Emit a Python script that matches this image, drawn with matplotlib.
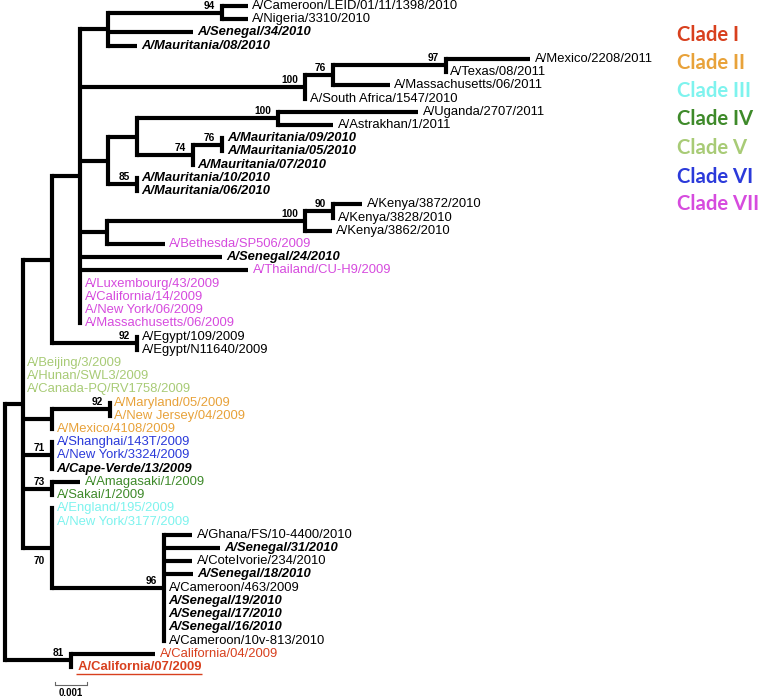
import matplotlib
matplotlib.use("Agg")
import matplotlib.pyplot as plt
from matplotlib.collections import LineCollection

# ---------------- data ----------------
# branch lengths in units of 1e-3 substitutions/site; internal labels = bootstrap
CLADE_D = ("((A/Cameroon/LEID/01/11/1398/2010:0.81,A/Nigeria/3310/2010:0.81)94:3.56,"
           "A/Senegal/34/2010:2.66,A/Mauritania/08/2010:0.91):0.875")
CLADE_100A = ("(((A/Mexico/2208/2011:2.63,A/Texas/08/2011:0)97:3.53,"
              "A/Massachusetts/06/2011:1.78)76:0.875,A/South Africa/1547/2010:0)100:7.03")
CLADE_E = ("(((A/Uganda/2707/2011:4.375,A/Astrakhan/1/2011:1.72)100:4.41,"
           "((A/Mauritania/09/2010:0,A/Mauritania/05/2010:0)76:0.91,A/Mauritania/07/2010:0)74:1.75):0.91,"
           "(A/Mauritania/10/2010:0,A/Mauritania/06/2010:0)85:0.91):0.875")
CLADE_G = ("(((A/Kenya/3872/2010:0.91,A/Kenya/3828/2010:0)90:0.875,A/Kenya/3862/2010:0.84)100:6.19,"
           "A/Bethesda/SP506/2009:1.81):0.84")
CLADE_C = ("(" + CLADE_D + "," + CLADE_100A + "," + CLADE_E + "," + CLADE_G +
           ",A/Senegal/24/2010:4.44,A/Thailand/CU-H9/2009:5.25,A/Luxembourg/43/2009:0,"
           "A/California/14/2009:0,A/New York/06/2009:0,A/Massachusetts/06/2009:0):0.875")
CLADE_B = "(" + CLADE_C + ",(A/Egypt/109/2009:0,A/Egypt/N11640/2009:0)92:2.66):0.91"
CLADE_A = ("(" + CLADE_B + ",A/Beijing/3/2009:0,A/Hunan/SWL3/2009:0,A/Canada-PQ/RV1758/2009:0,"
           "((A/Maryland/05/2009:0,A/New Jersey/04/2009:0)92:1.81,A/Mexico/4108/2009:0):0.91,"
           "(A/Shanghai/143T/2009:0,A/New York/3324/2009:0,A/Cape-Verde/13/2009:0)71:0.91,"
           "(A/Amagasaki/1/2009:0.875,A/Sakai/1/2009:0)73:0.91,"
           "(A/England/195/2009:0,A/New York/3177/2009:0,"
           "(A/Ghana/FS/10-4400/2010:0.875,A/Senegal/31/2010:1.75,A/CoteIvorie/234/2010:0.875,"
           "A/Senegal/18/2010:0.91,A/Cameroon/463/2009:0,A/Senegal/19/2010:0,A/Senegal/17/2010:0,"
           "A/Senegal/16/2010:0,A/Cameroon/10v-813/2010:0)96:3.5)70:0.91):0.56")
NEWICK = "(" + CLADE_A + ",(A/California/04/2009:2.63,A/California/07/2009:0)81:2.06);"

CLADE_NAMES = ["Clade I", "Clade II", "Clade III", "Clade IV", "Clade V", "Clade VI", "Clade VII"]
CLADE_COLORS = ["#D8401E", "#E8A23A", "#7EF3EE", "#3E8A2A", "#A8CB76", "#2B3ADA", "#D64BDE"]

TIP_CLADE = {
    "A/California/04/2009": 0, "A/California/07/2009": 0,
    "A/Maryland/05/2009": 1, "A/New Jersey/04/2009": 1, "A/Mexico/4108/2009": 1,
    "A/England/195/2009": 2, "A/New York/3177/2009": 2,
    "A/Amagasaki/1/2009": 3, "A/Sakai/1/2009": 3,
    "A/Beijing/3/2009": 4, "A/Hunan/SWL3/2009": 4, "A/Canada-PQ/RV1758/2009": 4,
    "A/Shanghai/143T/2009": 5, "A/New York/3324/2009": 5,
    "A/Bethesda/SP506/2009": 6, "A/Thailand/CU-H9/2009": 6, "A/Luxembourg/43/2009": 6,
    "A/California/14/2009": 6, "A/New York/06/2009": 6, "A/Massachusetts/06/2009": 6,
}
BOLD_ITALIC = {
    "A/Senegal/34/2010", "A/Mauritania/08/2010", "A/Mauritania/09/2010", "A/Mauritania/05/2010",
    "A/Mauritania/07/2010", "A/Mauritania/10/2010", "A/Mauritania/06/2010", "A/Senegal/24/2010",
    "A/Cape-Verde/13/2009", "A/Senegal/31/2010", "A/Senegal/18/2010", "A/Senegal/19/2010",
    "A/Senegal/17/2010", "A/Senegal/16/2010",
}
BOLD_UNDERLINE = {"A/California/07/2009"}
BOOT_BELOW = {"70"}
SCALE_VALUE = 0.001
SCALE_LABEL = "0.001"


# ---------------- parse ----------------
def parse_newick(s):
    pos = 0

    def node():
        nonlocal pos
        children = []
        if s[pos] == "(":
            pos += 1
            while True:
                children.append(node())
                if s[pos] == ",":
                    pos += 1
                    continue
                if s[pos] == ")":
                    pos += 1
                    break
        start = pos
        while s[pos] not in ":,);":
            pos += 1
        name = s[start:pos].strip()
        length = 0.0
        if s[pos] == ":":
            pos += 1
            start = pos
            while s[pos] not in ",);":
                pos += 1
            length = float(s[start:pos]) * 1e-3
        return {"name": name, "len": length, "children": children}

    return node()


root = parse_newick(NEWICK)

tips = []


def layout(n, x0):
    n["x"] = x0 + n["len"]
    if not n["children"]:
        n["y"] = len(tips)
        tips.append(n)
    else:
        for c in n["children"]:
            layout(c, n["x"])
        n["y"] = (n["children"][0]["y"] + n["children"][-1]["y"]) / 2.0


layout(root, 0.0)

# ---------------- figure ----------------
W, H, DPI = 763, 698, 100
fig = plt.figure(figsize=(W / DPI, H / DPI), dpi=DPI)
ax = fig.add_axes([0, 0, 1, 1])
ax.axis("off")

PX_PER_UNIT = 32 / 0.001
ROOT_PX = 5
ROW0, ROW_H = 6, 13.22
ax.set_xlim(-ROOT_PX / PX_PER_UNIT, (W - ROOT_PX) / PX_PER_UNIT)
ax.set_ylim((H - ROW0) / ROW_H, -ROW0 / ROW_H)

LW = 3.0
hsegs, vsegs = [], []


def collect(n, parent):
    if parent is not None and n["len"] > 0:
        hsegs.append([(parent["x"], n["y"]), (n["x"], n["y"])])
    if n["children"]:
        vsegs.append([(n["x"], n["children"][0]["y"]), (n["x"], n["children"][-1]["y"])])
        for c in n["children"]:
            collect(c, n)


collect(root, None)
ax.add_collection(LineCollection(hsegs, colors="black", linewidths=LW, capstyle="butt"))
ax.add_collection(LineCollection(vsegs, colors="black", linewidths=LW, capstyle="projecting"))

FONT = "Liberation Sans"
TIP_FS = 9.4
label_artists = {}
for t in tips:
    name = t["name"]
    color = CLADE_COLORS[TIP_CLADE[name]] if name in TIP_CLADE else "black"
    weight, style = "normal", "normal"
    txt = name
    if name in BOLD_ITALIC:
        weight, style = "bold", "italic"
    if name in BOLD_UNDERLINE:
        weight = "bold"
        txt = " " + name
    a = ax.annotate(txt, xy=(t["x"], t["y"]), xytext=(4.5, 0), textcoords="offset pixels",
                    ha="left", va="center", fontsize=TIP_FS, color=color,
                    fontweight=weight, fontstyle=style, family=FONT)
    label_artists[name] = (a, color)


def boot(n):
    if n["children"]:
        if n["name"]:
            dy = -13 if n["name"] in BOOT_BELOW else 7
            ax.annotate(n["name"], xy=(n["x"], n["y"]), xytext=(-7, dy), textcoords="offset pixels",
                        ha="right", va="center", fontsize=7.3, fontweight="bold", family=FONT)
        for c in n["children"]:
            boot(c)


boot(root)

# scale bar
sx0 = (55 - ROOT_PX) / PX_PER_UNIT
sy = (685 - ROW0) / ROW_H
tick = 3 / ROW_H
ax.plot([sx0, sx0 + SCALE_VALUE], [sy, sy], color="#666666", lw=0.8, solid_capstyle="butt")
ax.plot([sx0, sx0], [sy, sy - tick], color="#666666", lw=0.8)
ax.plot([sx0 + SCALE_VALUE] * 2, [sy, sy - tick], color="#666666", lw=0.8)
ax.annotate(SCALE_LABEL, xy=(sx0 + SCALE_VALUE / 2, sy), xytext=(0, -8), textcoords="offset pixels",
            ha="center", va="center", fontsize=7, fontweight="bold", family=FONT)

# clade legend
LEG_Y = [35, 63, 91, 119, 148, 177, 204]
for name, col, yp in zip(CLADE_NAMES, CLADE_COLORS, LEG_Y):
    fig.text(677 / W, 1 - yp / H, name, ha="left", va="center", fontsize=14.6,
             fontweight="bold", color=col, family="Lato")

# underline
fig.canvas.draw()
inv = ax.transData.inverted()
for name in BOLD_UNDERLINE:
    a, col = label_artists[name]
    bb = a.get_window_extent()
    ymid = (bb.y0 + bb.y1) / 2 - 7
    p0 = inv.transform((bb.x0 + 1, ymid))
    p1 = inv.transform((bb.x1, ymid))
    ax.plot([p0[0], p1[0]], [p0[1], p1[1]], color=col, lw=1.0, solid_capstyle="butt")

fig.savefig("out.png", dpi=DPI)
